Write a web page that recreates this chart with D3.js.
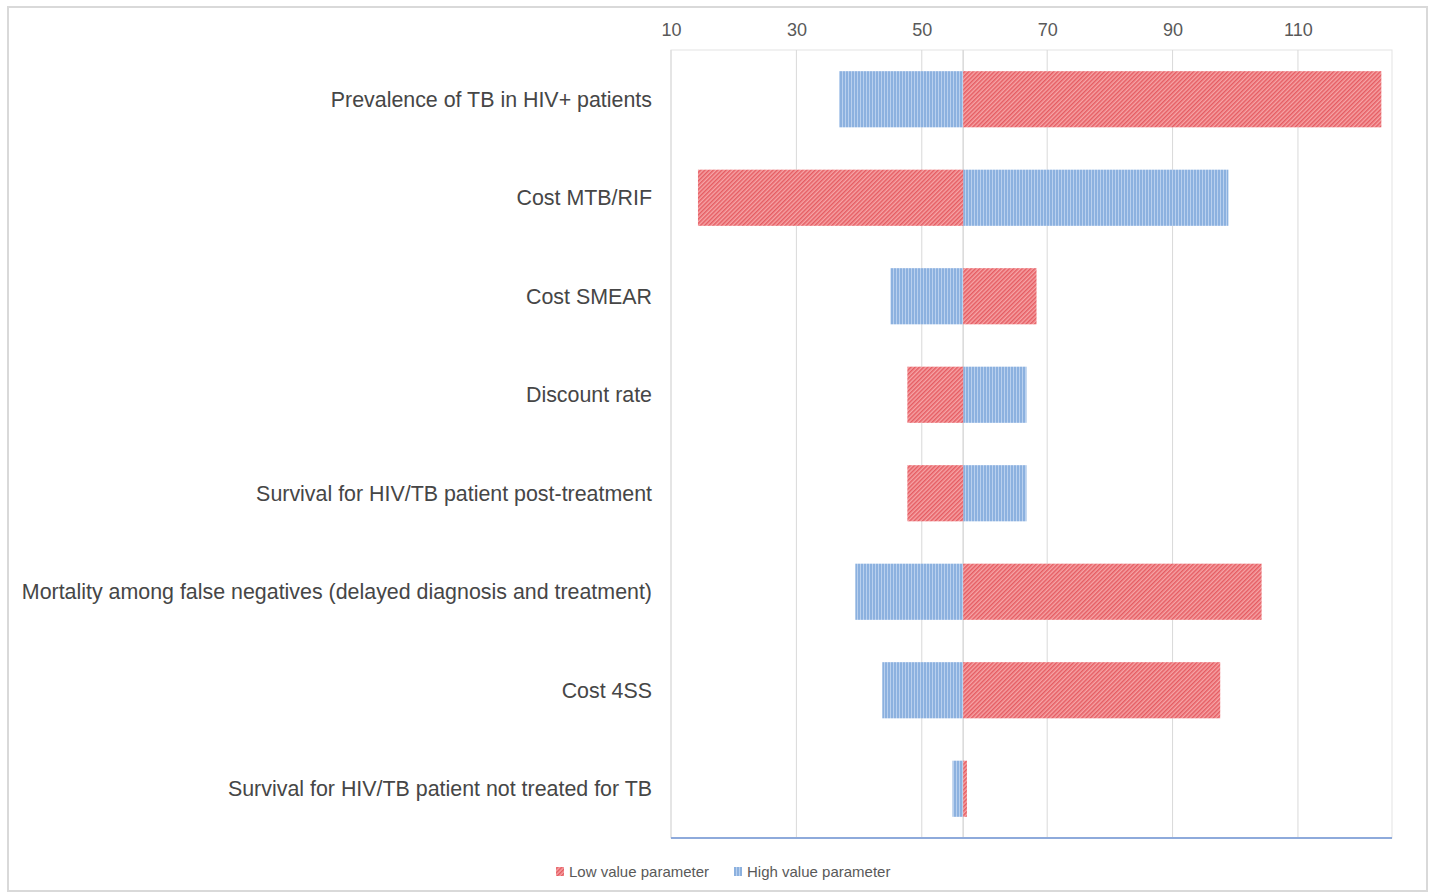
<!DOCTYPE html>
<html lang="en">
<head>
    <meta charset="UTF-8">
    <title>Tornado chart</title>
    <script src="https://d3js.org/d3.v7.min.js"></script>
    <style>
        body { margin: 0; background: #fff; }
        svg text { font-family: "Liberation Sans", Arial, sans-serif; }
    </style>
</head>
<body>
    <script>
        const categories = [
            "Prevalence of TB in HIV+ patients",
            "Cost MTB/RIF",
            "Cost SMEAR",
            "Discount rate",
            "Survival for HIV/TB patient post-treatment",
            "Mortality among false negatives (delayed diagnosis and treatment)",
            "Cost 4SS",
            "Survival for HIV/TB patient not treated for TB"
        ];
        // value reached with the low / high value of each parameter
        const lowValues = [123.3, 14.3, 68.3, 47.7, 47.7, 104.2, 97.6, 57.2];
        const highValues = [36.8, 98.9, 45.0, 66.7, 66.7, 39.4, 43.7, 54.9];
        const baseValue = 56.6;
        const tickValues = [10, 30, 50, 70, 90, 110];
        const seriesNames = ["Low value parameter", "High value parameter"];

        const width = 1430, height = 894;
        const plotLeft = 671, plotRight = 1392, plotTop = 50, plotBottom = 838;

        const svg = d3.select("body").append("svg")
            .attr("width", width)
            .attr("height", height);

        const defs = svg.append("defs");
        const red = defs.append("pattern")
            .attr("id", "redHatch")
            .attr("patternUnits", "userSpaceOnUse")
            .attr("width", 3).attr("height", 3)
            .attr("patternTransform", "rotate(45)");
        red.append("rect").attr("width", 3).attr("height", 3).attr("fill", "#f6a4a6");
        red.append("rect").attr("width", 1.5).attr("height", 3).attr("fill", "#e55c62");

        const blue = defs.append("pattern")
            .attr("id", "blueHatch")
            .attr("patternUnits", "userSpaceOnUse")
            .attr("width", 3).attr("height", 3);
        blue.append("rect").attr("width", 3).attr("height", 3).attr("fill", "#b9d0ee");
        blue.append("rect").attr("width", 2).attr("height", 3).attr("fill", "#8cb1df");

        // outer chart border
        svg.append("rect")
            .attr("x", 8).attr("y", 7)
            .attr("width", 1419).attr("height", 884)
            .attr("fill", "none")
            .attr("stroke", "#d9d9d9")
            .attr("stroke-width", 2);

        const x = d3.scaleLinear().domain([10, 125]).range([plotLeft, plotRight]);
        const y = d3.scaleBand().domain(categories).range([plotTop, plotBottom])
            .paddingInner(0.43).paddingOuter(0.215);

        // plot area frame + gridlines
        svg.append("rect")
            .attr("x", plotLeft).attr("y", plotTop)
            .attr("width", plotRight - plotLeft).attr("height", plotBottom - plotTop)
            .attr("fill", "none")
            .attr("stroke", "#e3e3e3");

        svg.append("g")
            .selectAll("line")
            .data(tickValues)
            .enter().append("line")
            .attr("x1", d => x(d)).attr("x2", d => x(d))
            .attr("y1", plotTop).attr("y2", plotBottom)
            .attr("stroke", "#d9d9d9");

        const axis = svg.append("g")
            .attr("transform", `translate(0,${plotTop})`)
            .call(d3.axisTop(x).tickValues(tickValues).tickSize(0).tickPadding(14));
        axis.select(".domain").remove();
        axis.selectAll("text")
            .attr("font-size", 18)
            .attr("fill", "#595959")
            .style("font-family", "'Liberation Sans', Arial, sans-serif");

        // vertical axis at base value
        svg.append("line")
            .attr("x1", x(baseValue)).attr("x2", x(baseValue))
            .attr("y1", plotTop).attr("y2", plotBottom)
            .attr("stroke", "#d9d9d9")
            .attr("stroke-width", 1.5);

        const rows = categories.map((c, i) => ({ c, low: lowValues[i], high: highValues[i] }));

        svg.append("g")
            .selectAll("rect")
            .data(rows)
            .enter().append("rect")
            .attr("x", d => x(Math.min(baseValue, d.high)))
            .attr("y", d => y(d.c))
            .attr("width", d => Math.abs(x(d.high) - x(baseValue)))
            .attr("height", y.bandwidth())
            .attr("fill", "url(#blueHatch)");

        svg.append("g")
            .selectAll("rect")
            .data(rows)
            .enter().append("rect")
            .attr("x", d => x(Math.min(baseValue, d.low)))
            .attr("y", d => y(d.c))
            .attr("width", d => Math.abs(x(d.low) - x(baseValue)))
            .attr("height", y.bandwidth())
            .attr("fill", "url(#redHatch)");

        // bottom axis line
        svg.append("line")
            .attr("x1", plotLeft).attr("x2", plotRight)
            .attr("y1", plotBottom).attr("y2", plotBottom)
            .attr("stroke", "#8eaadb")
            .attr("stroke-width", 2);

        // category labels
        svg.append("g")
            .selectAll("text")
            .data(categories)
            .enter().append("text")
            .attr("x", 652)
            .attr("y", d => y(d) + y.bandwidth() / 2)
            .attr("dy", "0.35em")
            .attr("text-anchor", "end")
            .attr("font-size", 21.4)
            .attr("fill", "#464646")
            .text(d => d);

        // legend
        const legend = svg.append("g").attr("transform", "translate(556,872)");
        const legendItems = [
            { name: seriesNames[0], fill: "url(#redHatch)", x: 0 },
            { name: seriesNames[1], fill: "url(#blueHatch)", x: 178 }
        ];
        const li = legend.selectAll("g").data(legendItems).enter().append("g")
            .attr("transform", d => `translate(${d.x},0)`);
        li.append("rect")
            .attr("x", 0).attr("y", -5)
            .attr("width", 8).attr("height", 9)
            .attr("fill", d => d.fill);
        li.append("text")
            .attr("x", 13).attr("y", 0)
            .attr("dy", "0.35em")
            .attr("font-size", 15)
            .attr("fill", "#595959")
            .text(d => d.name);
    </script>
</body>
</html>
